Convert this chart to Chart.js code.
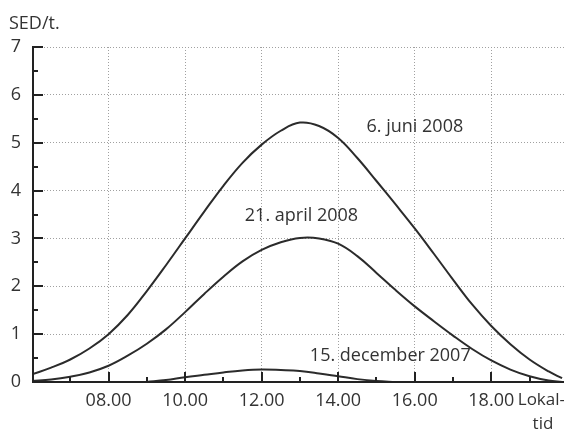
<!DOCTYPE html>
<html>
<head>
<meta charset="utf-8">
<script src="https://cdn.jsdelivr.net/npm/chart.js@4.4.0/dist/chart.umd.min.js"></script>
<style>
  html, body { margin: 0; padding: 0; background: #fff; }
</style>
</head>
<body>
<canvas id="sedChart" width="564" height="433"></canvas>
<script>
// tidspunkter (lokal tid, timer)
var hours = [6, 6.5, 7, 7.5, 8, 8.5, 9, 9.5, 10, 10.5, 11, 11.5, 12, 12.5, 13, 13.5,
             14, 14.5, 15, 15.5, 16, 16.5, 17, 17.5, 18, 18.5, 19, 19.5, 19.85];
var juni = [0.16, 0.3, 0.47, 0.7, 1.0, 1.4, 1.9, 2.44, 3.0, 3.56, 4.1, 4.58, 4.96, 5.25, 5.42, 5.35,
            5.1, 4.68, 4.2, 3.71, 3.21, 2.68, 2.14, 1.62, 1.17, 0.79, 0.47, 0.22, 0.08];
var april = [0.02, 0.05, 0.11, 0.2, 0.34, 0.55, 0.8, 1.1, 1.46, 1.84, 2.2, 2.52, 2.76, 2.92, 3.01, 3.0,
             2.89, 2.63, 2.28, 1.92, 1.58, 1.27, 0.97, 0.69, 0.45, 0.26, 0.12, 0.03, 0.0];
var decHours = [9, 9.5, 10, 10.5, 11, 11.5, 12, 12.5, 13, 13.5, 14, 14.5, 15, 15.5];
var december = [0, 0.04, 0.1, 0.15, 0.2, 0.24, 0.26, 0.25, 0.23, 0.18, 0.12, 0.06, 0.02, 0];

var xTicks = [8, 10, 12, 14, 16, 18];
var yTicks = [0, 1, 2, 3, 4, 5, 6, 7];

// tekster paa kurverne (data-koordinater)
var labels = [
  { text: '6. juni 2008', x: 14.74, y: 5.33 },
  { text: '21. april 2008', x: 11.56, y: 3.48 },
  { text: '15. december 2007', x: 13.26, y: 0.54 }
];

function pts(xs, ys) {
  return xs.map(function (x, i) { return { x: x, y: ys[i] }; });
}

var font = '"Open Sans", sans-serif';
var ink = '#333';
var lineColor = '#2b2b2b';

// akser, indvendige tick-streger og tekster
var frame = {
  id: 'frame',
  afterDraw: function (chart) {
    var ctx = chart.ctx;
    var xs = chart.scales.x, ys = chart.scales.y;
    var a = chart.chartArea;
    ctx.save();
    ctx.strokeStyle = '#222';
    ctx.lineWidth = 2;
    var x0 = a.left + 1, y0 = ys.getPixelForValue(0);
    ctx.beginPath();
    ctx.moveTo(x0, a.top); ctx.lineTo(x0, y0 + 1);
    ctx.moveTo(a.left, y0); ctx.lineTo(a.right, y0);
    ctx.stroke();

    ctx.beginPath();
    for (var h = 7; h <= 19; h++) {
      var px = Math.round(xs.getPixelForValue(h));
      var len = (h % 2 === 0) ? 10 : 5;
      ctx.moveTo(px, y0); ctx.lineTo(px, y0 - len);
    }
    for (var v = 0.5; v <= 7; v += 0.5) {
      var py = Math.round(ys.getPixelForValue(v));
      var l = (v % 1 === 0) ? 11 : 6;
      ctx.moveTo(a.left, py); ctx.lineTo(a.left + l, py);
    }
    ctx.stroke();

    ctx.fillStyle = ink;
    ctx.font = '18px ' + font;
    ctx.textBaseline = 'middle';
    ctx.textAlign = 'left';
    labels.forEach(function (lb) {
      ctx.fillText(lb.text, xs.getPixelForValue(lb.x), ys.getPixelForValue(lb.y));
    });
    ctx.fillText('SED/t.', 9, 24);
    ctx.font = '17px ' + font;
    ctx.textAlign = 'right';
    ctx.fillText('Lokal-', a.right + 1, y0 + 18);
    ctx.textAlign = 'center';
    ctx.fillText('tid', xs.getPixelForValue(19.35), y0 + 42);
    ctx.restore();
  }
};

var dotted = {
  display: true,
  color: function (c) { return (c.tick && c.tick.value === 0) ? 'rgba(0,0,0,0)' : '#a0a0a0'; },
  lineWidth: 1,
  drawTicks: false
};

var myChart = new Chart(document.getElementById('sedChart').getContext('2d'), {
  type: 'line',
  data: {
    datasets: [
      { label: '6. juni 2008', data: pts(hours, juni) },
      { label: '21. april 2008', data: pts(hours, april) },
      { label: '15. december 2007', data: pts(decHours, december) }
    ]
  },
  options: {
    responsive: false,
    animation: false,
    layout: { padding: { top: 47, right: 0, left: 0, bottom: 0 } },
    elements: {
      line: { borderColor: lineColor, borderWidth: 2, tension: 0.4, fill: false },
      point: { radius: 0 }
    },
    plugins: { legend: { display: false }, tooltip: { enabled: false } },
    scales: {
      x: {
        type: 'linear',
        min: 6,
        max: 19.9,
        afterBuildTicks: function (s) { s.ticks = xTicks.map(function (v) { return { value: v }; }); },
        afterFit: function (s) { s.height = 51; },
        grid: dotted,
        border: { display: false, dash: [1, 2] },
        ticks: {
          padding: 8,
          color: ink,
          font: { family: font, size: 18 },
          maxRotation: 0,
          callback: function (v) { return (v < 10 ? '0' : '') + v + '.00'; }
        }
      },
      y: {
        min: 0,
        max: 7,
        afterBuildTicks: function (s) { s.ticks = yTicks.map(function (v) { return { value: v }; }); },
        afterFit: function (s) { s.width = 32; },
        grid: dotted,
        border: { display: false, dash: [1, 2] },
        ticks: {
          padding: 11,
          color: ink,
          font: { family: font, size: 18 }
        }
      }
    }
  },
  plugins: [frame]
});
</script>
</body>
</html>
